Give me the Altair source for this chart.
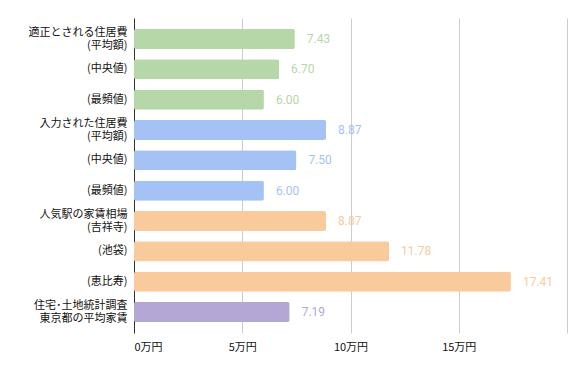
import altair as alt
import pandas as pd

keys = ["k0", "k1", "k2", "k3", "k4", "k5", "k6", "k7", "k8", "k9"]
labels = [
    "適正とされる住居費|(平均額)",
    "(中央値)",
    "(最頻値)",
    "入力された住居費|(平均額)",
    "(中央値)",
    "(最頻値)",
    "人気駅の家賃相場|(吉祥寺)",
    "(池袋)",
    "(恵比寿)",
    "住宅･土地統計調査|東京都の平均家賃",
]
values = [7.43, 6.70, 6.00, 8.87, 7.50, 6.00, 8.87, 11.78, 17.41, 7.19]
groups = ["a", "a", "a", "b", "b", "b", "c", "c", "c", "d"]
group_colors = {"a": "#b6d7a8", "b": "#a4c2f4", "c": "#f9cb9c", "d": "#b4a7d6"}
x_ticks = [0, 5, 10, 15, 20]
x_tick_labels = ["0万円", "5万円", "10万円", "15万円", ""]

df = pd.DataFrame({
    "key": keys,
    "label": labels,
    "value": values,
    "group": groups,
    "txt": [f"{v:.2f}" for v in values],
})

label_map = "{" + ",".join(f"'{k}':'{l}'" for k, l in zip(keys, labels)) + "}"
tick_map = "{" + ",".join(f"'{t}':'{l}'" for t, l in zip(x_ticks, x_tick_labels)) + "}"
multi_keys = [k for k, l in zip(keys, labels) if "|" in l]
multi_test = "indexof([" + ",".join(f"'{k}'" for k in multi_keys) + "], datum.value) >= 0"

color_scale = alt.Scale(domain=list(group_colors.keys()), range=list(group_colors.values()))

y_enc = alt.Y(
    "key:N",
    sort=keys,
    scale=alt.Scale(paddingInner=0.34, paddingOuter=0.36),
    axis=alt.Axis(
        title=None,
        ticks=False,
        domain=True,
        domainColor="#333333",
        labelPadding=7,
        labelFontSize=11,
        labelFont="Noto Sans CJK JP",
        labelColor="#111111",
        labelLineHeight=13,
        labelBaseline=alt.condition(multi_test, alt.value("line-bottom"), alt.value("middle")),
        labelExpr=f"split({label_map}[datum.value], '|')",
    ),
)

x_enc = alt.X(
    "value:Q",
    scale=alt.Scale(domain=[0, 20], nice=False),
    axis=alt.Axis(
        title=None,
        values=x_ticks,
        ticks=False,
        domain=False,
        grid=True,
        gridColor="#cccccc",
        labelPadding=8,
        labelFontSize=11,
        labelFont="Noto Sans CJK JP",
        labelColor="#111111",
        labelExpr=f"{tick_map}[datum.value + '']",
    ),
)

bars = alt.Chart(df).mark_bar(cornerRadius=2).encode(
    x=x_enc,
    y=y_enc,
    color=alt.Color("group:N", scale=color_scale, legend=None),
)

text = alt.Chart(df).mark_text(align="left", dx=12, fontSize=12, font="Roboto").encode(
    x="value:Q",
    y=alt.Y("key:N", sort=keys),
    text="txt:N",
    color=alt.Color("group:N", scale=color_scale, legend=None),
)

chart = (bars + text).properties(
    width=433,
    height=315,
    autosize=alt.AutoSizeParams(type="none"),
    padding={"left": 126, "top": 10, "right": 10, "bottom": 30},
).configure_view(stroke=None)

chart.save("out.html", embed_options={"renderer": "svg", "actions": False})
